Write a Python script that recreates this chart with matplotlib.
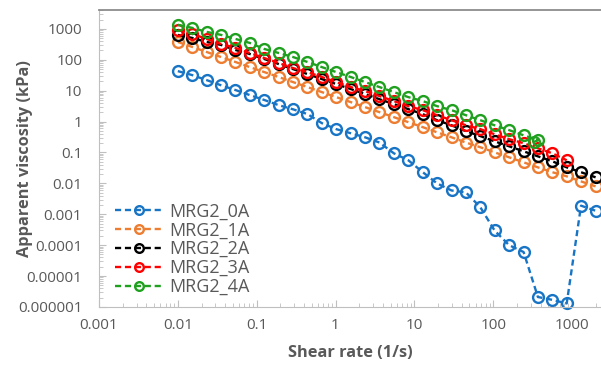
import numpy as np
import matplotlib
matplotlib.use('Agg')
import matplotlib.pyplot as plt
from matplotlib.ticker import FixedLocator, FixedFormatter, LogLocator, NullFormatter

plt.rcParams['font.family'] = ['Open Sans', 'DejaVu Sans']

# shear rate (1/s), log sweep 0.01 -> 2000
shear_rate = [0.01, 0.0152, 0.0232, 0.0353, 0.0538, 0.0819, 0.125, 0.190, 0.289, 0.441,
              0.671, 1.02, 1.56, 2.37, 3.61, 5.50, 8.38, 12.8, 19.4, 29.6,
              45.1, 68.6, 104, 159, 243, 369, 562, 856, 1300, 1990]

# apparent viscosity (kPa)
mrg2_0a = [43, 32, 22, 15, 10.5, 7.2, 5.0, 3.4, 2.5, 1.75,
           0.89, 0.57, 0.42, 0.31, 0.21, 0.094, 0.056, 0.023, 0.010, 0.0059,
           0.0051, 0.0017, 0.0003, 0.0001, 0.00006, 2.1e-6, 1.7e-6, 1.3e-6, 0.0019, 0.0013]
mrg2_1a = [378, 261, 179, 123, 85, 58, 40, 27.7, 19.0, 13.1,
           9.0, 6.2, 4.27, 2.94, 2.02, 1.39, 0.96, 0.66, 0.45, 0.31,
           0.21, 0.148, 0.101, 0.070, 0.048, 0.033, 0.023, 0.0169, 0.0116, 0.0080]
mrg2_2a = [638, 510, 378, 303, 208, 154, 106, 73, 50, 34.6,
           23.8, 16.4, 11.3, 7.8, 5.3, 3.67, 2.53, 1.74, 1.11, 0.76,
           0.49, 0.34, 0.23, 0.159, 0.109, 0.075, 0.052, 0.033, 0.023, 0.0157]
mrg2_3a = [929, 689, 473, 326, 242, 166, 114, 79, 54, 40,
           27.7, 19.0, 13.1, 9.7, 6.7, 4.6, 3.16, 2.34, 1.61, 1.11,
           0.76, 0.57, 0.39, 0.27, 0.20, 0.137, 0.094, 0.056]
mrg2_4a = [1350, 1080, 800, 640, 473, 351, 224, 166, 123, 85,
           58, 40, 27.7, 19.0, 13.1, 9.0, 6.2, 4.6, 3.16, 2.34,
           1.61, 1.11, 0.76, 0.53, 0.36, 0.25, 0.22]
mrg2_4a_x = shear_rate[:26] + [330]

series = [
    ('MRG2_0A', shear_rate, mrg2_0a, '#1874c4'),
    ('MRG2_1A', shear_rate, mrg2_1a, '#ed7d31'),
    ('MRG2_2A', shear_rate, mrg2_2a, '#000000'),
    ('MRG2_3A', shear_rate[:len(mrg2_3a)], mrg2_3a, '#ff0000'),
    ('MRG2_4A', mrg2_4a_x, mrg2_4a, '#1fa01f'),
]

x_ticks = [0.001, 0.01, 0.1, 1, 10, 100, 1000]
x_labels = ['0.001', '0.01', '0.1', '1', '10', '100', '1000']
y_ticks = [1e-6, 1e-5, 1e-4, 1e-3, 1e-2, 0.1, 1, 10, 100, 1000]
y_labels = ['0.000001', '0.00001', '0.0001', '0.001', '0.01', '0.1', '1', '10', '100', '1000']

fig = plt.figure(figsize=(6.01, 3.65), dpi=100)
ax = fig.add_axes([0.1647, 0.159, 0.8353, 0.8137])

for name, xs, ys, c in series:
    ax.plot(xs, ys, linestyle='--', color=c, lw=1.7, marker='o', ms=7.8,
            mfc='none', mec=c, mew=1.7, label=name, dashes=(2.6, 1.6), clip_on=False)

ax.set_xscale('log')
ax.set_yscale('log')
ax.set_xlim(0.001, 2330)
ax.set_ylim(1e-6, 4100)

ax.xaxis.set_major_locator(FixedLocator(x_ticks))
ax.xaxis.set_major_formatter(FixedFormatter(x_labels))
ax.yaxis.set_major_locator(FixedLocator(y_ticks))
ax.yaxis.set_major_formatter(FixedFormatter(y_labels))
ax.xaxis.set_minor_locator(LogLocator(base=10, subs=np.arange(2, 10), numticks=20))
ax.yaxis.set_minor_locator(LogLocator(base=10, subs=np.arange(2, 10), numticks=20))
ax.xaxis.set_minor_formatter(NullFormatter())
ax.yaxis.set_minor_formatter(NullFormatter())

ax.tick_params(which='major', direction='in', length=5, color='#bfbfbf',
               labelsize=11, labelcolor='#595959')
ax.tick_params(axis='y', which='major', pad=12)
ax.tick_params(axis='x', which='major', pad=8)
ax.tick_params(which='minor', direction='in', length=3, color='#bfbfbf')

ax.spines['right'].set_visible(False)
ax.spines['top'].set_color('#8c8c8c')
ax.spines['top'].set_linewidth(1.3)
ax.spines['left'].set_color('#bfbfbf')
ax.spines['bottom'].set_color('#bfbfbf')

ax.set_xlabel('Shear rate (1/s)', fontsize=11.8, fontweight='bold', color='#595959')
ax.set_ylabel('Apparent viscosity (kPa)', fontsize=11.8, fontweight='bold', color='#595959')
ax.xaxis.set_label_coords(0.5, -0.128)
ax.yaxis.set_label_coords(-0.131, 0.5)

leg = ax.legend(loc='upper left', bbox_to_anchor=(0.032, 0.352), frameon=False,
                fontsize=13, handlelength=2.7, labelspacing=0.05, handletextpad=0.3,
                borderaxespad=0, borderpad=0, markerscale=0.8)
for t in leg.get_texts():
    t.set_color('#595959')

fig.savefig('out.png', dpi=100)
